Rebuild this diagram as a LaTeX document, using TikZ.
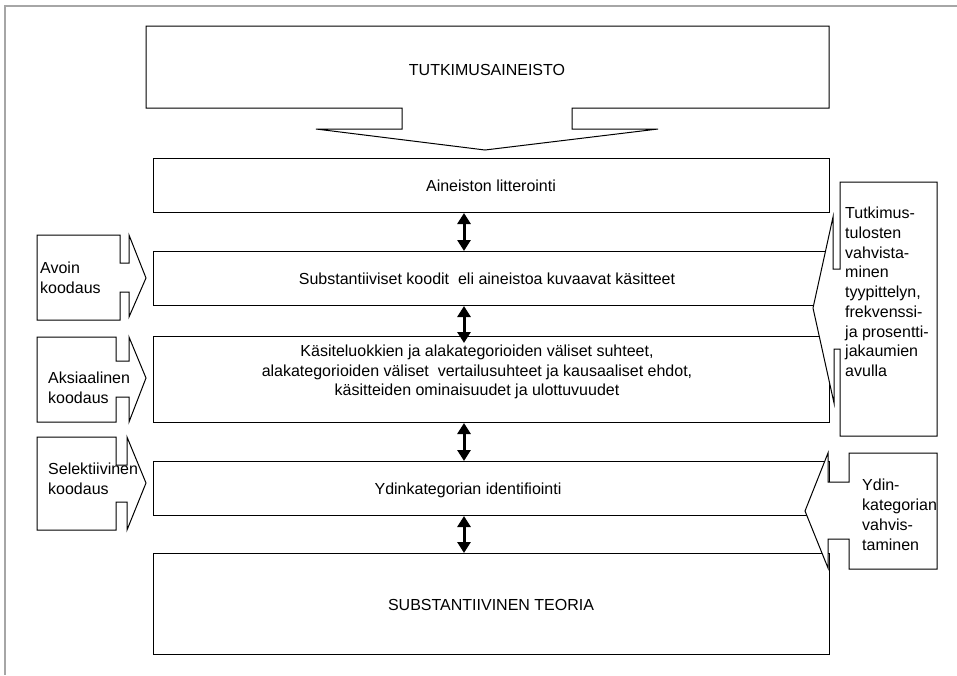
\documentclass[tikz,border=0pt]{standalone}
\usepackage{fontspec}
\setmainfont{Liberation Sans}
\usetikzlibrary{arrows.meta}
\begin{document}
\begin{tikzpicture}[x=1pt,y=-1pt,
  every node/.style={font=\fontsize{16}{19.7}\selectfont, inner sep=0pt},
  stage/.style={draw=black, line width=1pt, fill=white, minimum width=676pt, anchor=north west},
  callout/.style={draw=black, line width=1pt, fill=white, line join=miter},
  sidetext/.style={anchor=north west, align=left},
  dbl/.style={{Triangle[width=13pt,length=11pt]}-{Triangle[width=13pt,length=11pt]}, line width=3pt},
  frame/.style={draw=gray!70, line width=1.2pt}
]
\useasboundingbox (0,0) rectangle (957,675);

% page edge
\draw[frame] (957,6) -- (5,6) -- (5,675);

% stage boxes
\node[stage, minimum height=54pt]  (lit)    at (153,158) {};
\node[stage, minimum height=54pt]  (subs)   at (153,251) {};
\node[stage, minimum height=86pt]  (kasi)   at (153,336) {};
\node[stage, minimum height=54pt]  (ydin)   at (153,461) {};
\node[stage, minimum height=101pt] (teoria) at (153,553) {};

% source data callout pointing down
\draw[callout] (146,26) -- (829,26) -- (829,108) -- (572,108) -- (572,129) -- (658,129)
  -- (485,150) -- (316,129) -- (402,129) -- (402,108) -- (146,108) -- cycle;

% coding callouts pointing right
\draw[callout] (37,235) -- (120,235) -- (120,263) -- (129,263) -- (129,235) -- (146,278)
  -- (129,317) -- (129,292) -- (120,292) -- (120,320) -- (37,320) -- cycle;
\draw[callout] (37,337) -- (116,337) -- (116,361) -- (129,361) -- (129,337) -- (146,378)
  -- (129,422) -- (129,397) -- (116,397) -- (116,422) -- (37,422) -- cycle;
\draw[callout] (37,437) -- (116,437) -- (116,465) -- (127,465) -- (127,437) -- (146,483)
  -- (127,530) -- (127,502) -- (116,502) -- (116,530) -- (37,530) -- cycle;

% verification callouts pointing left
\draw[callout] (840,182) -- (937,182) -- (937,436) -- (840,436) -- (840,349) -- (834,349)
  -- (834,403) -- (813,308) -- (833,217) -- (833,269) -- (840,269) -- cycle;
\draw[callout] (849,453) -- (937,453) -- (937,569) -- (849,569) -- (849,539) -- (828,539)
  -- (828,568) -- (805,511) -- (828,453) -- (828,482) -- (849,482) -- cycle;

% texts
\node (t0) at (487,70) {TUTKIMUSAINEISTO};
\node (t1) at (491,186) {Aineiston litterointi};
\node (t2) at (487,279) {Substantiiviset koodit\ \ eli aineistoa kuvaavat käsitteet};
\node[align=center] (t3) at (477,372) {Käsiteluokkien ja alakategorioiden väliset suhteet,\\
  alakategorioiden väliset\ \ vertailusuhteet ja kausaaliset ehdot,\\
  käsitteiden ominaisuudet ja ulottuvuudet};
\node (t4) at (468,490) {Ydinkategorian identifiointi};
\node (t5) at (491,605) {SUBSTANTIIVINEN TEORIA};

\node[sidetext] (c1) at (40,262) {Avoin\\koodaus};
\node[sidetext] (c2) at (48,372) {Aksiaalinen\\koodaus};
\node[sidetext] (c3) at (48,463) {Selektiivinen\\koodaus};
\node[sidetext] (c4) at (845,207) {Tutkimus-\\tulosten\\vahvista-\\minen\\tyypittelyn,\\frekvenssi-\\ja prosentti-\\jakaumien\\avulla};
\node[sidetext, font=\fontsize{16}{20}\selectfont] (c5) at (862,479) {Ydin-\\kategorian\\vahvis-\\taminen};

% two-way links between stages
\coordinate (col) at (464,0);
\draw[dbl] (lit.south -| col) -- (subs.north -| col);
\draw[dbl, shorten >=-7pt] (subs.south -| col) -- (kasi.north -| col);
\draw[dbl] (kasi.south -| col) -- (ydin.north -| col);
\draw[dbl] (ydin.south -| col) -- (teoria.north -| col);
\end{tikzpicture}
\end{document}
